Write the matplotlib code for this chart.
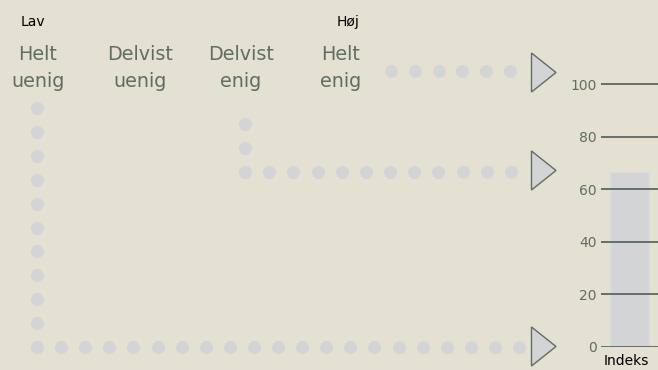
import numpy as np
import matplotlib.pyplot as plt
from matplotlib.patches import Polygon

# Data
categories = ['Helt\nuenig', 'Delvist\nuenig', 'Delvist\nenig', 'Helt\nenig']
scale_ends = ['Lav', 'Høj']
bar_labels = ['Indeks']
bar_values = [66.7]
y_ticks = [0, 20, 40, 60, 80, 100]

# Colours
bg = '#E4E0D2'
dot_col = '#D3D4D6'
txt_col = '#5F6E64'
line_col = '#627067'

fig = plt.figure(figsize=(6.58, 3.70), dpi=100)
fig.patch.set_facecolor(bg)

# diagram layer in pixel coordinates
dax = fig.add_axes([0, 0, 1, 1])
dax.set_xlim(0, 658)
dax.set_ylim(370, 0)
dax.axis('off')
dax.set_facecolor(bg)

# scale ends
dax.text(21, 26, scale_ends[0], ha='left', va='baseline', fontsize=10, color='black')
dax.text(359, 26, scale_ends[1], ha='right', va='baseline', fontsize=10, color='black')

# category labels (two lines each)
cat_x = [38, 140, 241, 341]
for cx, lab in zip(cat_x, categories):
    l1, l2 = lab.split('\n')
    dax.text(cx, 60, l1, ha='center', va='baseline', fontsize=13.8, color=txt_col)
    dax.text(cx, 87, l2, ha='center', va='baseline', fontsize=13.8, color=txt_col)

# dotted paths from answers to the index
paths = [
    (np.full(11, 37.0), np.linspace(108, 347, 11)),
    (np.linspace(37, 519, 21), np.full(21, 347.0)),
    (np.full(3, 245.0), np.linspace(124, 172, 3)),
    (np.linspace(245, 511, 12), np.full(12, 172.0)),
    (np.linspace(391, 510, 6), np.full(6, 71.0)),
]
for px, py in paths:
    dax.plot(px, py, 'o', ms=9.4, color=dot_col, mec='none')

# arrow heads
for ty in [72.5, 170.5, 346.5]:
    tri = Polygon([[531.5, ty - 19.5], [556, ty], [531.5, ty + 19.5]], closed=True,
                  facecolor=dot_col, edgecolor=txt_col, linewidth=1)
    dax.add_patch(tri)

# index bar chart
ax = fig.add_axes([601 / 658, 23.3 / 370, 57 / 658, (346.7 - 70.9) / 370])
ax.patch.set_alpha(0)
ax.bar(0, bar_values[0], width=0.667, color=dot_col, edgecolor='#DCDCDE', linewidth=1, zorder=1)
for v in y_ticks:
    ax.axhline(v, color=line_col, linewidth=1.4, zorder=2)
ax.set_xlim(-0.5, 0.5)
ax.set_ylim(0, 105)
ax.set_yticks(y_ticks)
ax.set_yticklabels([str(v) for v in y_ticks], fontsize=10, color=txt_col)
ax.tick_params(axis='y', length=0, pad=3)
ax.set_xticks([])
for s in ax.spines.values():
    s.set_visible(False)

dax.text(626, 365, bar_labels[0], ha='center', va='baseline', fontsize=10, color='black')

fig.savefig('out.png', dpi=100, facecolor=bg)
